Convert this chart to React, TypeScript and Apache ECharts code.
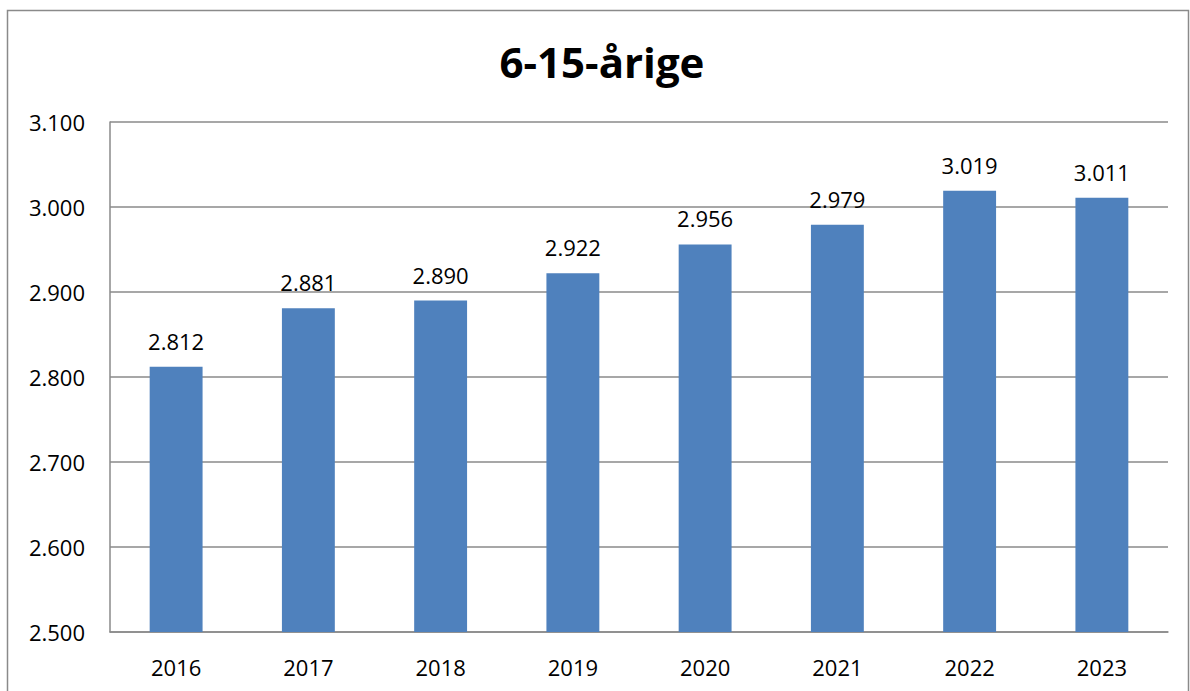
import React, { useEffect, useRef } from "react";
import * as echarts from "echarts";

const years = ["2016", "2017", "2018", "2019", "2020", "2021", "2022", "2023"];
const values = [2812, 2881, 2890, 2922, 2956, 2979, 3019, 3011];
const titleText = "6-15-årige";

const fmt = (v: number) => {
  const s = Math.round(v).toString();
  return s.replace(/\B(?=(\d{3})+(?!\d))/g, ".");
};

export default function App() {
  const ref = useRef<HTMLDivElement>(null);
  useEffect(() => {
    if (!ref.current) return;
    const chart = echarts.init(ref.current, undefined, { renderer: "svg" });
    const font = "'Open Sans', sans-serif";
    chart.setOption({
      animation: false,
      backgroundColor: "#ffffff",
      grid: { left: 110, right: 22, top: 122, bottom: 59, containLabel: false },
      graphic: [
        {
          type: "rect",
          shape: { x: 7.5, y: 10.5, width: 1181, height: 720 },
          style: { fill: "none", stroke: "#8a8a8a", lineWidth: 1.5 },
          silent: true,
        },
        {
          type: "text",
          x: 602,
          y: 61,
          style: {
            text: titleText,
            font: "bold 42px 'Open Sans', sans-serif",
            fill: "#000000",
            textAlign: "center",
            textVerticalAlign: "middle",
          },
        },
      ],
      xAxis: {
        type: "category",
        data: years,
        axisLine: { show: true, lineStyle: { color: "#8a8a8a", width: 1.5 } },
        axisTick: { show: false },
        axisLabel: { color: "#000", fontSize: 22, fontFamily: font, margin: 24 },
      },
      yAxis: {
        type: "value",
        min: 2500,
        max: 3100,
        interval: 100,
        axisLine: { show: true, lineStyle: { color: "#8a8a8a", width: 1.5 } },
        axisTick: { show: false },
        splitLine: { show: true, lineStyle: { color: "#8a8a8a", width: 1.5 } },
        axisLabel: {
          color: "#000",
          fontSize: 22,
          fontFamily: font,
          margin: 25,
          formatter: (v: number) => fmt(v),
        },
      },
      series: [
        {
          type: "bar",
          data: values,
          barWidth: "40%",
          itemStyle: { color: "#4f81bd" },
          label: {
            show: true,
            position: "top",
            distance: 15,
            color: "#000",
            fontSize: 22,
            fontFamily: font,
            formatter: (p: any) => fmt(p.value),
          },
        },
      ],
    });
    return () => chart.dispose();
  }, []);
  return (
    <div
      ref={ref}
      style={{ position: "fixed", left: 0, top: 0, width: 1190, height: 691 }}
    />
  );
}
